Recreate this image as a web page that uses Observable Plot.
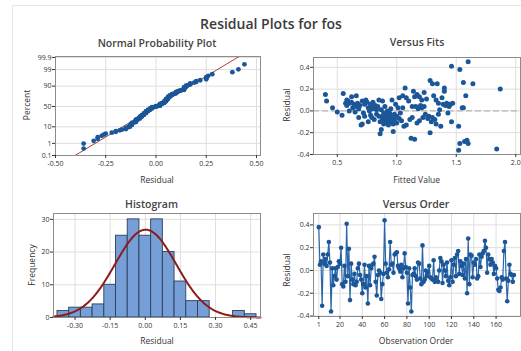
<!DOCTYPE html>
<html><head><meta charset="utf-8">
<script src="https://cdn.jsdelivr.net/npm/d3@7"></script>
<script src="https://cdn.jsdelivr.net/npm/@observablehq/plot@0.6"></script>
<style>
body{margin:0;background:#fff;}
#wrap{position:relative;width:521px;height:351px;overflow:hidden;font-family:"Open Sans",sans-serif;color:#333;background:#fff;}
.t{position:absolute;white-space:nowrap;transform:translate(-50%,-50%);line-height:1;}
.rot{transform:translate(-50%,-50%) rotate(-90deg);}
.panel{position:absolute;}
.outer{position:absolute;left:12px;top:5px;width:530px;height:370px;border:1.5px solid #e4e4e4;box-sizing:border-box;}
</style></head><body><div id="wrap"><div class="outer"></div></div>
<script>
// ---- data ----
const residuals = [
 0.38, 0.05, 0.08, -0.31, 0.14, 0.06, 0.10, 0.04, 0.14, 0.25, 0.07, -0.36, 0.02, -0.13, -0.05, 0.02, -0.08, 0.03, 0.08, 0.06,
 0.20, -0.12, -0.14, 0.04, -0.10, 0.41, -0.05, 0.19, -0.26, 0.06, -0.08, -0.12, -0.03, -0.13, -0.10, 0.02, 0.06, -0.04, -0.08, -0.20,
 -0.12, 0.05, -0.15, -0.05, -0.29, 0.04, -0.13, 0.02, 0.05, 0.06, 0.12, -0.10, -0.22, -0.04, 0.00, -0.02, -0.25, -0.12, -0.03, 0.44,
 0.06, -0.02, -0.06, 0.01, 0.25, 0.05, 0.06, -0.02, 0.14, 0.15, 0.16, 0.04, 0.02, -0.01, 0.05, -0.06, 0.02, 0.15, 0.03, -0.02,
 -0.29, 0.02, -0.15, -0.36, -0.04, -0.03, 0.02, -0.05, -0.08, 0.07, 0.06, -0.07, -0.12, 0.22, -0.10, -0.08, 0.00, -0.05, -0.02, 0.04,
 -0.06, -0.07, -0.08, 0.09, -0.10, -0.06, -0.09, -0.10, 0.00, 0.11, 0.08, -0.11, 0.05, 0.00, -0.05, 0.07, -0.09, -0.13, -0.06, 0.09,
 -0.10, 0.05, 0.11, -0.05, 0.14, 0.17, -0.03, 0.08, 0.04, -0.04, 0.06, -0.07, 0.10, -0.20, 0.28, -0.12, 0.14, 0.13, -0.06, 0.07,
 0.05, 0.10, -0.07, -0.05, 0.14, 0.03, 0.12, 0.15, 0.17, 0.26, 0.20, -0.02, 0.14, 0.10, 0.05, 0.10, 0.07, -0.03, 0.04, 0.02,
 -0.07, -0.17, -0.18, -0.15, -0.06, -0.08, 0.17, 0.25, -0.07, -0.27, -0.09, 0.05, -0.03, -0.04, -0.10, -0.04
];
const fitX = [0.40,0.41,0.46,0.50,0.54,0.55,0.57,0.58,0.58,0.59,0.60,0.60,0.62,0.63,0.64,0.65,0.66,0.66,0.67,0.68,0.68,0.69,0.70,0.71,0.71,0.72,0.73,0.74,0.75,0.76,0.76,0.77,0.78,0.78,0.79,0.80,0.80,0.81,0.82,0.83,0.84,0.85,0.85,0.86,0.86,0.87,0.87,0.88,0.88,0.89,0.89,0.90,0.90,0.91,0.91,0.92,0.92,0.93,0.93,0.94,0.94,0.95,0.95,0.96,0.96,0.97,0.97,0.98,0.98,0.99,1.00,1.00,1.01,1.02,1.02,1.03,1.04,1.05,1.05,1.06,1.07,1.08,1.08,1.10,1.11,1.12,1.13,1.13,1.14,1.15,1.15,1.16,1.17,1.17,1.18,1.19,1.19,1.20,1.21,1.21,1.22,1.23,1.23,1.24,1.25,1.26,1.27,1.28,1.28,1.29,1.30,1.30,1.31,1.32,1.33,1.33,1.34,1.35,1.35,1.36,1.37,1.38,1.39,1.40,1.40,1.41,1.42,1.43,1.44,1.45,1.46,1.46,1.47,1.52,1.52,1.53,1.53,1.55,1.56,1.56,1.57,1.58,1.59,1.60,1.60,1.64,1.84,1.87,0.88,0.90,0.92,0.94,0.83,0.79,0.73,0.62];
const fitY = [0.15,0.09,0.03,-0.01,-0.04,0.16,0.07,0.10,0.05,0.09,0.00,0.07,0.13,0.03,0.06,-0.01,0.14,0.04,0.07,-0.06,0.02,0.05,-0.13,-0.12,0.09,-0.02,0.06,0.10,0.08,0.03,-0.10,0.00,0.06,-0.04,-0.06,0.08,0.02,-0.08,0.05,-0.03,0.04,-0.05,0.10,-0.21,-0.10,0.01,-0.17,0.09,-0.08,-0.02,-0.12,-0.06,0.04,-0.09,-0.03,-0.11,0.00,-0.07,-0.13,-0.04,-0.09,0.02,-0.10,0.10,-0.06,-0.19,-0.12,-0.03,-0.08,0.06,-0.11,-0.05,0.03,-0.07,0.12,-0.02,-0.09,0.14,0.03,-0.14,0.21,0.12,-0.13,0.09,-0.08,-0.25,0.04,-0.06,0.18,0.13,-0.26,0.04,0.15,-0.11,0.02,0.13,-0.09,0.05,0.10,0.03,-0.06,0.17,0.04,-0.03,0.11,-0.07,-0.05,0.28,-0.20,-0.10,0.25,-0.06,0.14,-0.08,0.10,-0.12,0.25,0.07,-0.03,0.01,-0.14,0.12,0.06,0.21,0.18,0.05,0.07,-0.02,0.04,0.06,0.41,-0.10,0.07,-0.14,-0.36,0.38,-0.30,0.03,0.03,0.26,-0.28,0.14,-0.27,0.45,-0.30,0.25,-0.35,0.20,-0.05,-0.10,-0.07,-0.02,0.01,0.03,-0.05,0.08];
const histMid = [-0.35,-0.30,-0.25,-0.20,-0.15,-0.10,-0.05,0.00,0.05,0.10,0.15,0.20,0.25,0.30,0.35,0.40,0.45];
const histCount = [2,3,3,4,10,25,30,25,30,20,11,5,5,0,0,2,1];
const probTicks = [0.1,1,10,50,90,99,99.9];
const resTicks = [-0.50,-0.25,0,0.25,0.50];
const fitTicks = [0.5,1.0,1.5,2.0];
const vResTicks = [-0.4,-0.2,0,0.2,0.4];
const histXTicks = [-0.30,-0.15,0,0.15,0.30,0.45];
const histYTicks = [0,10,20,30];
const orderTicks = [1,20,40,60,80,100,120,140,160];

// ---- helpers ----
function qnorm(p){
  const a=[-39.69683028665376,220.9460984245205,-275.9285104469687,138.3577518672690,-30.66479806614716,2.506628277459239];
  const b=[-54.47609879822406,161.5858368580409,-155.6989798598866,66.80131188771972,-13.28068155288572];
  const c=[-0.007784894002430293,-0.3223964580411365,-2.400758277161838,-2.549732539343734,4.374664141464968,2.938163982698783];
  const d=[0.007784695709041462,0.3224671290700398,2.445134137142996,3.754408661907416];
  const pl=0.02425, ph=1-pl; let q,r;
  if(p<pl){q=Math.sqrt(-2*Math.log(p));return (((((c[0]*q+c[1])*q+c[2])*q+c[3])*q+c[4])*q+c[5])/((((d[0]*q+d[1])*q+d[2])*q+d[3])*q+1);}
  if(p<=ph){q=p-0.5;r=q*q;return (((((a[0]*r+a[1])*r+a[2])*r+a[3])*r+a[4])*r+a[5])*q/(((((b[0]*r+b[1])*r+b[2])*r+b[3])*r+b[4])*r+1);}
  q=Math.sqrt(-2*Math.log(1-p));return -(((((c[0]*q+c[1])*q+c[2])*q+c[3])*q+c[4])*q+c[5])/((((d[0]*q+d[1])*q+d[2])*q+d[3])*q+1);
}
const blue="#1b5798", grid="#dedede", frameC="#8c8c8c";
const style={fontFamily:"Open Sans, sans-serif",fontSize:"7px",color:"#333",background:"transparent",overflow:"visible"};
const f2=d=>d.toFixed(2), f1=d=>d.toFixed(1);
const wrap=document.getElementById("wrap");
function place(el,left,top){el.classList.add("panel");el.style.left=left+"px";el.style.top=top+"px";wrap.appendChild(el);}
function text(s,x,y,size,weight,rot,color){const d=document.createElement("div");d.className="t"+(rot?" rot":"");d.textContent=s;d.style.left=x+"px";d.style.top=y+"px";d.style.fontSize=size+"px";d.style.fontWeight=weight;if(color)d.style.color=color;wrap.appendChild(d);}

const n=residuals.length, mean=d3.mean(residuals), sd=d3.deviation(residuals);

// ---- Normal probability plot ----
const zLo=-3.09, zHi=3.15;
const sorted=residuals.slice().sort(d3.ascending);
const npp=sorted.map((r,i)=>({r,z:qnorm((i+1-0.3)/(n+0.4))}));
const zTicks=probTicks.map(p=>qnorm(p/100));
const zLab=new Map(zTicks.map((z,i)=>[z,String(probTicks[i])]));
const nppLine=[{r:mean+sd*zLo,z:zLo},{r:mean+sd*zHi,z:zHi}];
place(Plot.plot({width:265,height:160,marginLeft:55,marginRight:5,marginTop:21,marginBottom:40,style,
  x:{domain:[-0.5,0.52]},y:{domain:[zLo,zHi]},
  marks:[
    Plot.gridX(resTicks,{stroke:grid,strokeOpacity:1}),
    Plot.gridY(zTicks,{stroke:grid,strokeOpacity:1}),
    Plot.line(nppLine,{x:"r",y:"z",stroke:"#9b2a2a",strokeWidth:0.9,clip:true}),
    Plot.dot(npp,{x:"r",y:"z",r:2.4,fill:blue}),
    Plot.frame({stroke:frameC}),
    Plot.axisX(resTicks,{tickFormat:f2,tickSize:3,tickPadding:3,label:null}),
    Plot.axisY(zTicks,{tickFormat:z=>zLab.get(z),tickSize:3,tickPadding:1,label:null})
  ]}),0,35);

// ---- Versus Fits ----
const fits=fitX.map((x,i)=>({x,y:fitY[i]}));
place(Plot.plot({width:251,height:160,marginLeft:43,marginRight:1,marginTop:22,marginBottom:41,style,
  x:{domain:[0.30,2.04]},y:{domain:[-0.4,0.49]},
  marks:[
    Plot.gridX(fitTicks,{stroke:grid,strokeOpacity:1}),
    Plot.gridY(vResTicks,{stroke:grid,strokeOpacity:1}),
    Plot.ruleY([0],{stroke:"#a8a8a8",strokeDasharray:"6,3"}),
    Plot.dot(fits,{x:"x",y:"y",r:2.5,fill:blue}),
    Plot.frame({stroke:frameC}),
    Plot.axisX(fitTicks,{tickFormat:f1,tickSize:3,tickPadding:3,label:null}),
    Plot.axisY(vResTicks,{tickFormat:f1,tickSize:3,tickPadding:1,label:null})
  ]}),270,35);

// ---- Histogram ----
const bins=histMid.map((m,i)=>({x1:m-0.025,x2:m+0.025,y:histCount[i]}));
const bw=0.05;
const curve=d3.range(-0.392,0.493,0.004).map(x=>({x,y:n*bw*Math.exp(-0.5*((x-mean)/sd)**2)/(sd*Math.sqrt(2*Math.PI))}));
place(Plot.plot({width:265,height:160,marginLeft:53,marginRight:5,marginTop:23,marginBottom:33,style,
  x:{domain:[-0.392,0.492]},y:{domain:[0,31.8]},
  marks:[
    Plot.gridX(histXTicks,{stroke:grid,strokeOpacity:1}),
    Plot.gridY(histYTicks,{stroke:grid,strokeOpacity:1}),
    Plot.rectY(bins.filter(b=>b.y>0),{x1:"x1",x2:"x2",y:"y",fill:"#759fd6",stroke:"#2c3e5a",strokeWidth:0.9}),
    Plot.line(curve,{x:"x",y:"y",stroke:"#8e1b1b",strokeWidth:2}),
    Plot.frame({stroke:frameC}),
    Plot.axisX(histXTicks,{tickFormat:f2,tickSize:3,tickPadding:3,label:null}),
    Plot.axisY(histYTicks,{tickFormat:d=>String(d),tickSize:3,tickPadding:1,label:null})
  ]}),0,190);

// ---- Versus Order ----
const ord=residuals.map((r,i)=>({i:i+1,r}));
place(Plot.plot({width:251,height:160,marginLeft:43,marginRight:1,marginTop:23,marginBottom:34,style,
  x:{domain:[-3.75,181.9]},y:{domain:[-0.404,0.5]},
  marks:[
    Plot.gridX(orderTicks,{stroke:grid,strokeOpacity:1}),
    Plot.gridY(vResTicks,{stroke:grid,strokeOpacity:1}),
    Plot.line(ord,{x:"i",y:"r",stroke:"#2a66a8",strokeWidth:1.2}),
    Plot.dot(ord,{x:"i",y:"r",r:2.3,fill:blue}),
    Plot.frame({stroke:frameC}),
    Plot.axisX(orderTicks,{tickFormat:d=>String(d),tickSize:3,tickPadding:3,label:null}),
    Plot.axisY(vResTicks,{tickFormat:f1,tickSize:3,tickPadding:1,label:null})
  ]}),270,190);

// ---- titles and axis labels ----
text("Residual Plots for fos",271,24,14,600,false,"#3a3a3a");
text("Normal Probability Plot",157,42.5,10.5,600,false,"#444");
text("Versus Fits",417,42,10.5,600,false,"#444");
text("Histogram",151.5,204,10.5,600,false,"#444");
text("Versus Order",416,203.5,10.5,600,false,"#444");
text("Residual",157,180,8.5,400);
text("Percent",27,105,8.5,400,true);
text("Fitted Value",416.7,180,8.5,400);
text("Residual",286.7,105,8.5,400,true);
text("Residual",157,340.7,8.5,400);
text("Frequency",31.7,265,8.5,400,true);
text("Observation Order",416,340.7,8.5,400);
text("Residual",286.7,270,8.5,400,true);
</script></body></html>
